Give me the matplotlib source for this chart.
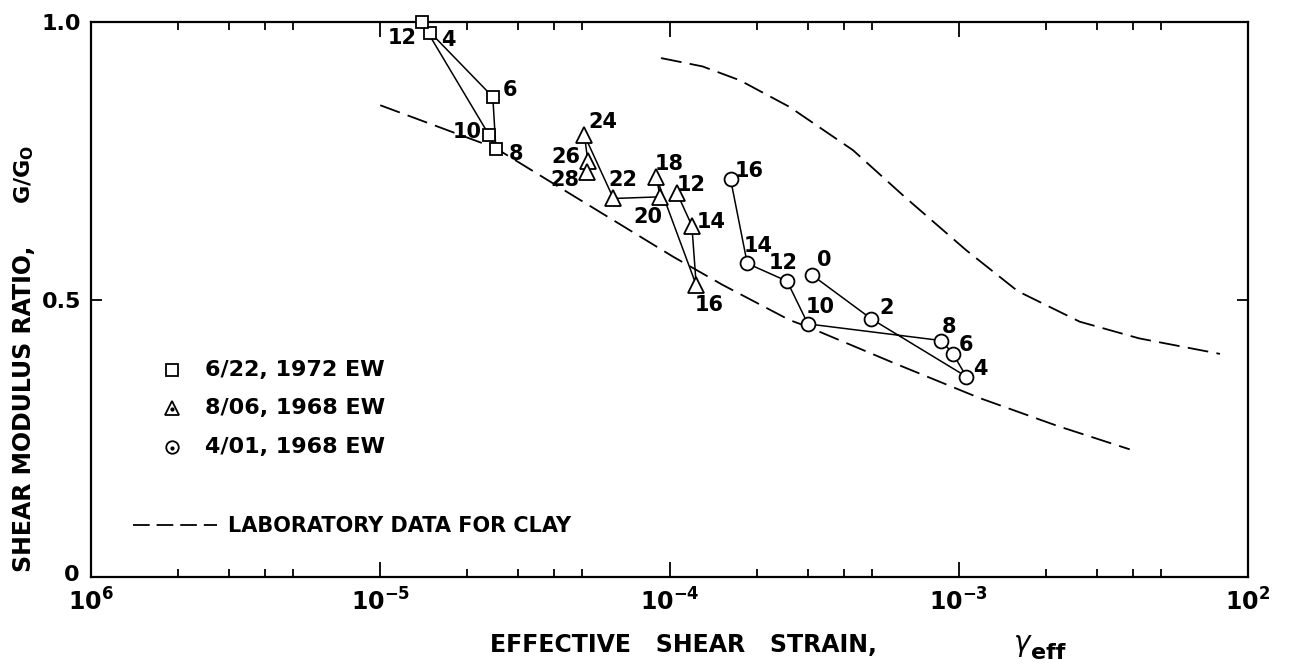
import numpy as np
import matplotlib
matplotlib.use("Agg")
import matplotlib.pyplot as plt
from matplotlib.transforms import offset_copy

plt.rcParams['font.family'] = ['DejaVu Sans']
plt.rcParams['font.weight'] = 'bold'
plt.rcParams['mathtext.fontset'] = 'custom'
plt.rcParams['mathtext.rm'] = 'DejaVu Sans:bold'
plt.rcParams['mathtext.bf'] = 'DejaVu Sans:bold'
plt.rcParams['mathtext.it'] = 'DejaVu Sans:italic'
plt.rcParams['lines.scale_dashes'] = False

# ---- data ----
sq_labels = ['4', '6', '8', '10', '12']
sq_x = [1.49e-5, 2.45e-5, 2.51e-5, 2.38e-5, 1.39e-5]
sq_y = [0.981, 0.865, 0.772, 0.796, 1.000]

tri_labels = ['12', '14', '16', '18', '20', '22', '24', '26', '28']
tri_x = [1.063e-4, 1.195e-4, 1.237e-4, 8.99e-5, 9.29e-5, 6.40e-5, 5.08e-5, 5.22e-5, 5.18e-5]
tri_y = [0.691, 0.633, 0.526, 0.721, 0.685, 0.682, 0.796, 0.750, 0.730]

cir_labels = ['0', '2', '4', '6', '8', '10', '12', '14', '16']
cir_x = [3.11e-4, 4.99e-4, 1.063e-3, 9.55e-4, 8.71e-4, 3.01e-4, 2.55e-4, 1.857e-4, 1.626e-4]
cir_y = [0.544, 0.465, 0.361, 0.402, 0.426, 0.456, 0.533, 0.565, 0.717]

lab_low_x = [1.0e-5, 2.5e-5, 4.05e-5, 1.03e-4, 1.53e-4, 2.6e-4, 3.0e-4, 6.0e-4, 1.18e-3, 2.2e-3, 3.9e-3]
lab_low_y = [0.850, 0.773, 0.706, 0.577, 0.526, 0.463, 0.451, 0.385, 0.3225, 0.272, 0.230]

lab_up_x = [9.35e-5, 1.3e-4, 1.75e-4, 2.6e-4, 4.31e-4, 6.5e-4, 1.06e-3, 1.6e-3, 2.62e-3, 4.2e-3, 8.0e-3]
lab_up_y = [0.935, 0.920, 0.895, 0.847, 0.769, 0.685, 0.589, 0.515, 0.460, 0.430, 0.402]

legend_labels = ['6/22, 1972 EW', '8/06, 1968 EW', '4/01, 1968 EW']
xtick_vals = [1e-6, 1e-5, 1e-4, 1e-3, 1e-2]
xtick_labels = ['10$^{6}$', '10$^{-5}$', '10$^{-4}$', '10$^{-3}$', '10$^{2}$']
ytick_vals = [0, 0.5, 1.0]
ytick_labels = ['0', '0.5', '1.0']

# label offsets (pixels) -- styling
sq_off = [(18, -7), (17, 7), (20, -5), (-22, 3), (-19, -16)]
tri_off = [(14, 8), (19, 4), (13, -20), (13, 13), (-12, -20), (9, 18), (18, 13), (-22, 4), (-22, -8)]
cir_off = [(12, 15), (15, 11), (14, 8), (13, 9), (8, 14), (12, 17), (-4, 18), (11, 17), (19, 8)]

W, H = 1298, 667
fig = plt.figure(figsize=(W / 100, H / 100), dpi=100)
L, R, T, B = 91, 1248, 22, 577
ax = fig.add_axes([L / W, 1 - B / H, (R - L) / W, (B - T) / H])
ax.set_xscale('log')
ax.set_xlim(1e-6, 1e-2)
ax.set_ylim(0, 1)

FS = 15

def fx(px):
    return px / W

def fy(py):
    return 1 - py / H

# lab curves
for xs, ys in [(lab_low_x, lab_low_y), (lab_up_x, lab_up_y)]:
    ax.plot(xs, ys, color='black', lw=1.3, dashes=(15, 6), zorder=2)

mk = dict(color='black', lw=1.1, mfc='white', mec='black', mew=1.3, clip_on=False, zorder=3)
ax.plot(sq_x, sq_y, marker='s', ms=9, **mk)
ax.plot(tri_x, tri_y, marker='^', ms=11, **mk)
ax.plot(cir_x, cir_y, marker='o', ms=10, **mk)

for labs, xs, ys, offs in [(sq_labels, sq_x, sq_y, sq_off),
                           (tri_labels, tri_x, tri_y, tri_off),
                           (cir_labels, cir_x, cir_y, cir_off)]:
    for lab, x, y, o in zip(labs, xs, ys, offs):
        ax.annotate(lab, (x, y), xytext=o, textcoords='offset pixels',
                    ha='center', va='center', fontsize=FS, fontweight='bold', zorder=4,
                    annotation_clip=False)

# ticks
ax.set_xticks(xtick_vals)
ax.set_xticklabels(xtick_labels)
minor = [m * d for d in [1e-6, 1e-5, 1e-4, 1e-3] for m in (2, 3, 4, 5)]
ax.set_xticks(minor, minor=True)
ax.set_xticklabels([], minor=True)
ax.set_yticks(ytick_vals)
ax.set_yticklabels(ytick_labels)
ax.yaxis.set_minor_locator(matplotlib.ticker.NullLocator())
ax.tick_params(axis='x', which='major', direction='in', length=11, width=1.3,
               top=True, bottom=True, labelsize=FS + 2, pad=8)
ax.tick_params(axis='x', which='minor', direction='in', length=6, width=1.3,
               top=True, bottom=True)
ax.tick_params(axis='y', which='major', direction='in', length=8, width=1.3,
               left=True, right=True, labelsize=FS + 1, pad=7)
for s in ax.spines.values():
    s.set_linewidth(1.6)
# lift the "0" label slightly so it clears the 10^6 label
ylab0 = ax.get_yticklabels()[0]
ylab0.set_transform(offset_copy(ylab0.get_transform(), fig=fig, x=-2, y=4, units='dots'))

# legend (manual)
leg_y = [370, 408, 447]
leg_mk = ['s', '^', 'o']
leg_ms = [9, 10, 9]
for yy, m, ms, t in zip(leg_y, leg_mk, leg_ms, legend_labels):
    fig.lines.append(plt.Line2D([fx(172)], [fy(yy)], marker=m, ms=ms, mfc='white',
                                mec='black', mew=1.3, transform=fig.transFigure))
    fig.text(fx(205), fy(yy), t, fontsize=FS + 1, fontweight='bold', va='center', ha='left')
for yy in leg_y[1:]:
    fig.lines.append(plt.Line2D([fx(172)], [fy(yy + 1)], marker='o', ms=2, color='black',
                                transform=fig.transFigure))
fig.lines.append(plt.Line2D([fx(133), fx(217)], [fy(525), fy(525)], color='black', lw=1.3,
                            dashes=(12, 5), transform=fig.transFigure))
fig.text(fx(228), fy(526), 'LABORATORY DATA FOR CLAY', fontsize=FS, fontweight='bold',
         va='center', ha='left')

# axis labels
fig.text(fx(490), fy(645), 'EFFECTIVE   SHEAR   STRAIN,', fontsize=FS + 2,
         fontweight='bold', va='center', ha='left')
fig.text(fx(1014), fy(643), 'γ', fontsize=FS + 5, style='italic', fontweight='normal',
         va='center', ha='left')
fig.text(fx(1031), fy(653), 'eff', fontsize=FS + 1, fontweight='bold', va='center', ha='left')

fig.text(fx(24), fy(572), 'SHEAR MODULUS RATIO,', fontsize=FS + 2, fontweight='bold',
         rotation=90, ha='center', va='bottom')
fig.text(fx(24), fy(145), 'G/G$_{\\mathrm{O}}$', fontsize=FS + 1, fontweight='bold',
         rotation=90, ha='center', va='top')

fig.savefig('out.png', dpi=100)
